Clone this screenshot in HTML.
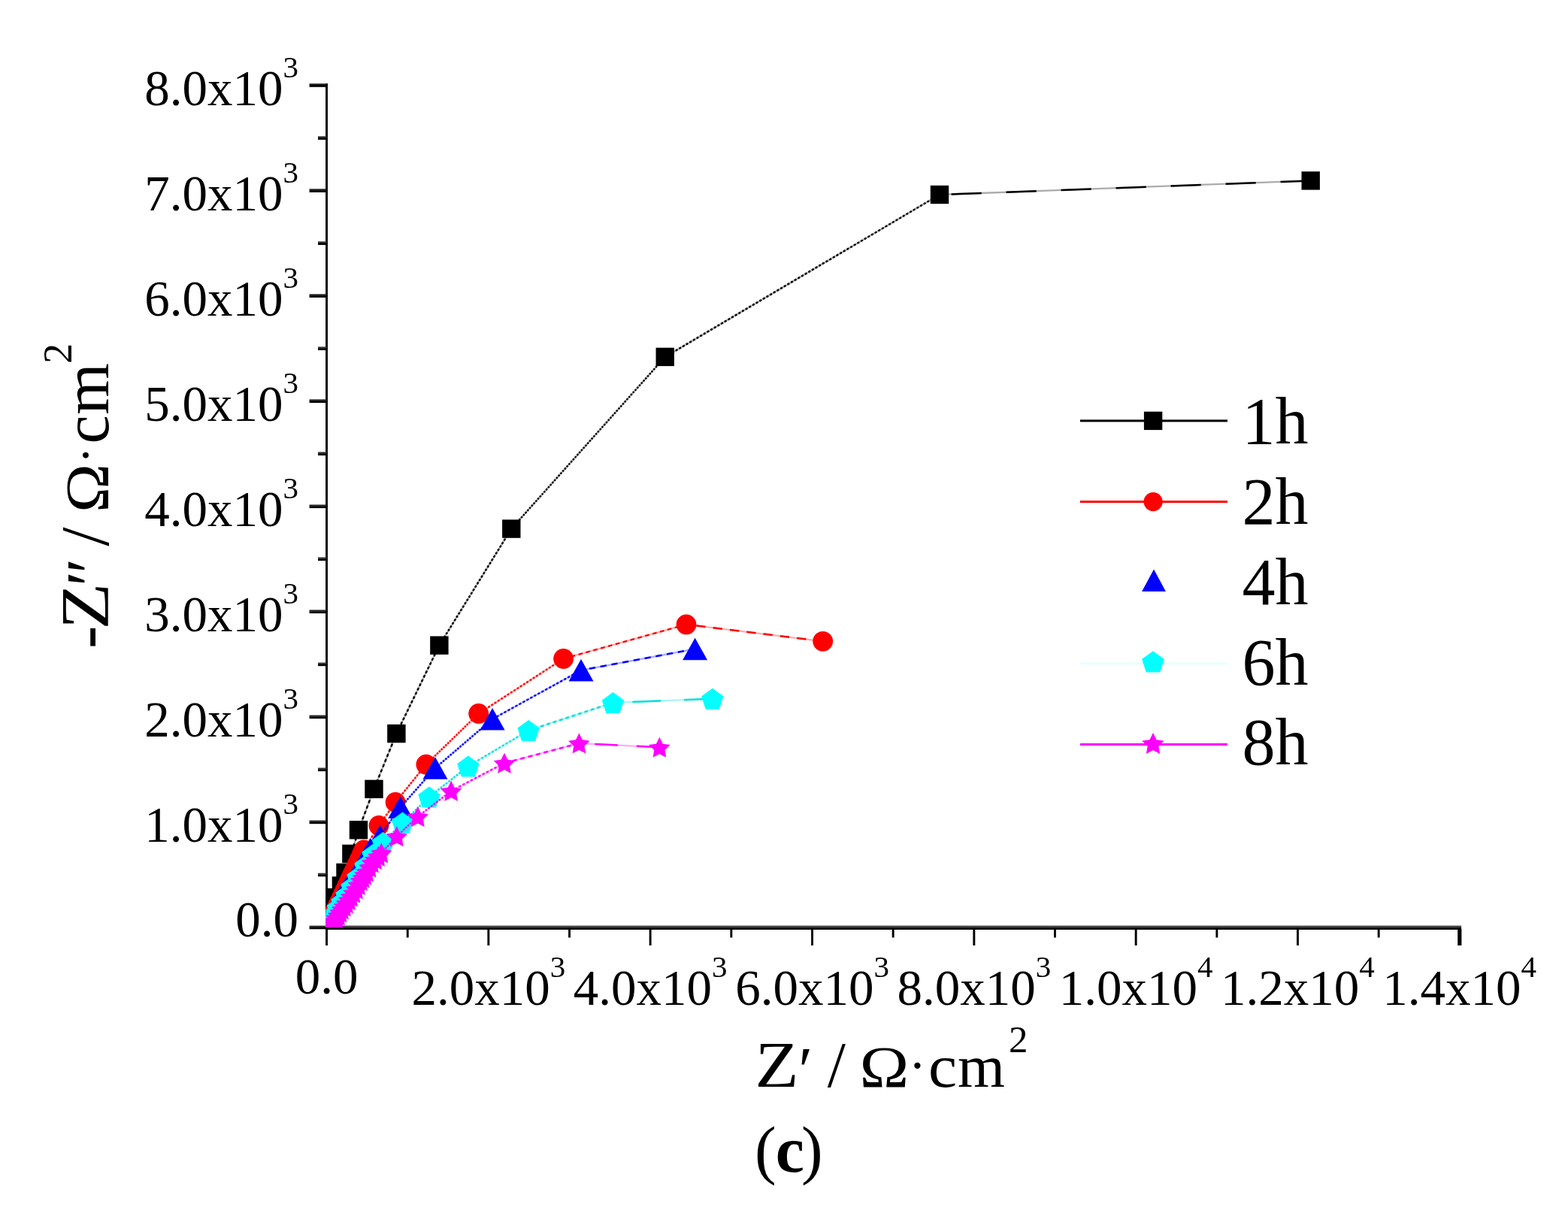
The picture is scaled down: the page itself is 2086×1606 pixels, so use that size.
<!DOCTYPE html>
<html><head><meta charset="utf-8"><title>Nyquist plot (c)</title>
<style>
html,body{margin:0;padding:0;background:#fff;}
svg{display:block;}
text{font-family:"Liberation Serif", "Times New Roman", serif;fill:#000;}
.tk{font-size:67px;}
.sup{font-size:41px;}
.sup2{font-size:51px;}
.lg{font-size:88px;}
.ttl{font-size:87px;}
.ttly{font-size:91px;}
.sup3{font-size:54px;}
.cap{font-size:86px;}
</style></head>
<body>
<svg width="2086" height="1606" viewBox="0 0 2086 1606">
<defs><clipPath id="plotclip"><rect x="433.5" y="0" width="1600" height="1234"/></clipPath></defs>
<rect width="2086" height="1606" fill="#fff"/>
<rect x="433.1" y="111" width="2.9" height="1126" fill="#000"/>
<rect x="433.1" y="1231.6" width="1511" height="2.6" fill="#444"/>
<rect x="433.1" y="1234.1" width="1511" height="2.9" fill="#000"/>
<rect x="411.6" y="1231.7" width="23" height="2.0" fill="#222"/>
<rect x="411.6" y="1233.5" width="23" height="2.8" fill="#000"/>
<rect x="411.6" y="1091.6" width="23" height="2.0" fill="#222"/>
<rect x="411.6" y="1093.4" width="23" height="2.8" fill="#000"/>
<rect x="411.6" y="951.6" width="23" height="2.0" fill="#222"/>
<rect x="411.6" y="953.4" width="23" height="2.8" fill="#000"/>
<rect x="411.6" y="811.5" width="23" height="2.0" fill="#222"/>
<rect x="411.6" y="813.3" width="23" height="2.8" fill="#000"/>
<rect x="411.6" y="671.5" width="23" height="2.0" fill="#222"/>
<rect x="411.6" y="673.3" width="23" height="2.8" fill="#000"/>
<rect x="411.6" y="531.4" width="23" height="2.0" fill="#222"/>
<rect x="411.6" y="533.2" width="23" height="2.8" fill="#000"/>
<rect x="411.6" y="391.3" width="23" height="2.0" fill="#222"/>
<rect x="411.6" y="393.1" width="23" height="2.8" fill="#000"/>
<rect x="411.6" y="251.3" width="23" height="2.0" fill="#222"/>
<rect x="411.6" y="253.1" width="23" height="2.8" fill="#000"/>
<rect x="411.6" y="111.2" width="23" height="2.0" fill="#222"/>
<rect x="411.6" y="113.0" width="23" height="2.8" fill="#000"/>
<rect x="423" y="1161.7" width="12" height="2.0" fill="#333"/>
<rect x="423" y="1163.5" width="12" height="2.8" fill="#000"/>
<rect x="423" y="1021.6" width="12" height="2.0" fill="#333"/>
<rect x="423" y="1023.4" width="12" height="2.8" fill="#000"/>
<rect x="423" y="881.6" width="12" height="2.0" fill="#333"/>
<rect x="423" y="883.4" width="12" height="2.8" fill="#000"/>
<rect x="423" y="741.5" width="12" height="2.0" fill="#333"/>
<rect x="423" y="743.3" width="12" height="2.8" fill="#000"/>
<rect x="423" y="601.4" width="12" height="2.0" fill="#333"/>
<rect x="423" y="603.2" width="12" height="2.8" fill="#000"/>
<rect x="423" y="461.4" width="12" height="2.0" fill="#333"/>
<rect x="423" y="463.2" width="12" height="2.8" fill="#000"/>
<rect x="423" y="321.3" width="12" height="2.0" fill="#333"/>
<rect x="423" y="323.1" width="12" height="2.8" fill="#000"/>
<rect x="423" y="181.3" width="12" height="2.0" fill="#333"/>
<rect x="423" y="183.1" width="12" height="2.8" fill="#000"/>
<rect x="433.1" y="1236" width="2.9" height="22" fill="#000"/>
<rect x="540.8" y="1236" width="2.9" height="11.5" fill="#000"/>
<rect x="648.4" y="1236" width="2.9" height="22" fill="#000"/>
<rect x="756.1" y="1236" width="2.9" height="11.5" fill="#000"/>
<rect x="863.7" y="1236" width="2.9" height="22" fill="#000"/>
<rect x="971.4" y="1236" width="2.9" height="11.5" fill="#000"/>
<rect x="1079.1" y="1236" width="2.9" height="22" fill="#000"/>
<rect x="1186.7" y="1236" width="2.9" height="11.5" fill="#000"/>
<rect x="1294.4" y="1236" width="2.9" height="22" fill="#000"/>
<rect x="1402.0" y="1236" width="2.9" height="11.5" fill="#000"/>
<rect x="1509.7" y="1236" width="2.9" height="22" fill="#000"/>
<rect x="1617.4" y="1236" width="2.9" height="11.5" fill="#000"/>
<rect x="1725.0" y="1236" width="2.9" height="22" fill="#000"/>
<rect x="1832.7" y="1236" width="2.9" height="11.5" fill="#000"/>
<rect x="1939.2" y="1236" width="5.2" height="22" fill="#000"/>
<text transform="translate(397,1246.0) scale(1,1.0)" text-anchor="end" class="tk">0.0</text>
<text transform="translate(397,1119.9) scale(1,1.0)" text-anchor="end" class="tk">1.0x10<tspan class="sup" dy="-37">3</tspan></text>
<text transform="translate(397,979.9) scale(1,1.0)" text-anchor="end" class="tk">2.0x10<tspan class="sup" dy="-37">3</tspan></text>
<text transform="translate(397,839.8) scale(1,1.0)" text-anchor="end" class="tk">3.0x10<tspan class="sup" dy="-37">3</tspan></text>
<text transform="translate(397,699.8) scale(1,1.0)" text-anchor="end" class="tk">4.0x10<tspan class="sup" dy="-37">3</tspan></text>
<text transform="translate(397,559.7) scale(1,1.0)" text-anchor="end" class="tk">5.0x10<tspan class="sup" dy="-37">3</tspan></text>
<text transform="translate(397,419.6) scale(1,1.0)" text-anchor="end" class="tk">6.0x10<tspan class="sup" dy="-37">3</tspan></text>
<text transform="translate(397,279.6) scale(1,1.0)" text-anchor="end" class="tk">7.0x10<tspan class="sup" dy="-37">3</tspan></text>
<text transform="translate(397,139.5) scale(1,1.0)" text-anchor="end" class="tk">8.0x10<tspan class="sup" dy="-37">3</tspan></text>
<text transform="translate(434.5,1322) scale(1,1.0)" text-anchor="middle" class="tk">0.0</text>
<text transform="translate(649.8,1337) scale(1,1.0)" text-anchor="middle" class="tk">2.0x10<tspan class="sup" dy="-37">3</tspan></text>
<text transform="translate(865.1,1337) scale(1,1.0)" text-anchor="middle" class="tk">4.0x10<tspan class="sup" dy="-37">3</tspan></text>
<text transform="translate(1080.5,1337) scale(1,1.0)" text-anchor="middle" class="tk">6.0x10<tspan class="sup" dy="-37">3</tspan></text>
<text transform="translate(1295.8,1337) scale(1,1.0)" text-anchor="middle" class="tk">8.0x10<tspan class="sup" dy="-37">3</tspan></text>
<text transform="translate(1511.1,1337) scale(1,1.0)" text-anchor="middle" class="tk">1.0x10<tspan class="sup" dy="-37">4</tspan></text>
<text transform="translate(1726.4,1337) scale(1,1.0)" text-anchor="middle" class="tk">1.2x10<tspan class="sup" dy="-37">4</tspan></text>
<text transform="translate(1941.7,1337) scale(1,1.0)" text-anchor="middle" class="tk">1.4x10<tspan class="sup" dy="-37">4</tspan></text>
<g clip-path="url(#plotclip)">
<line x1="1743.7" y1="240.4" x2="1250.0" y2="259.0" stroke="#000000" stroke-width="2.3" stroke-opacity="0.33"/><line x1="1743.7" y1="240.4" x2="1250.0" y2="259.0" stroke="#000000" stroke-width="2.5" stroke-dasharray="40.17 32.87"/>
<line x1="1250.0" y1="259.0" x2="884.8" y2="474.9" stroke="#000000" stroke-width="2.3" stroke-opacity="0.33"/><line x1="1250.0" y1="259.0" x2="884.8" y2="474.9" stroke="#000000" stroke-width="2.5" stroke-dasharray="2.97 2.43"/>
<line x1="884.8" y1="474.9" x2="680.3" y2="703.6" stroke="#000000" stroke-width="2.3" stroke-opacity="0.33"/><line x1="884.8" y1="474.9" x2="680.3" y2="703.6" stroke="#000000" stroke-width="2.5" stroke-dasharray="2.27 1.86"/>
<line x1="680.3" y1="703.6" x2="584.4" y2="858.7" stroke="#000000" stroke-width="2.3" stroke-opacity="0.33"/><line x1="680.3" y1="703.6" x2="584.4" y2="858.7" stroke="#000000" stroke-width="2.5" stroke-dasharray="2.88 2.35"/>
<line x1="584.4" y1="858.7" x2="527.4" y2="976.1" stroke="#000000" stroke-width="2.3" stroke-opacity="0.33"/><line x1="584.4" y1="858.7" x2="527.4" y2="976.1" stroke="#000000" stroke-width="2.5" stroke-dasharray="3.46 2.83"/>
<line x1="527.4" y1="976.1" x2="497.5" y2="1049.9" stroke="#000000" stroke-width="2.3" stroke-opacity="0.33"/><line x1="527.4" y1="976.1" x2="497.5" y2="1049.9" stroke="#000000" stroke-width="2.5" stroke-dasharray="4.03 3.30"/>
<line x1="497.5" y1="1049.9" x2="477.0" y2="1104.3" stroke="#000000" stroke-width="2.3" stroke-opacity="0.33"/><line x1="497.5" y1="1049.9" x2="477.0" y2="1104.3" stroke="#000000" stroke-width="2.5" stroke-dasharray="4.29 3.51"/>
<line x1="477.0" y1="1104.3" x2="467.4" y2="1136.0" stroke="#000000" stroke-width="2.3" stroke-opacity="0.33"/><line x1="477.0" y1="1104.3" x2="467.4" y2="1136.0" stroke="#000000" stroke-width="2.5" stroke-dasharray="5.22 4.27"/>
<line x1="467.4" y1="1136.0" x2="459.5" y2="1161.0" stroke="#000000" stroke-width="2.3" stroke-opacity="0.33"/><line x1="467.4" y1="1136.0" x2="459.5" y2="1161.0" stroke="#000000" stroke-width="2.5" stroke-dasharray="5.02 4.11"/>
<line x1="459.5" y1="1161.0" x2="453.9" y2="1178.5" stroke="#000000" stroke-width="2.3" stroke-opacity="0.33"/><line x1="459.5" y1="1161.0" x2="453.9" y2="1178.5" stroke="#000000" stroke-width="2.5" stroke-dasharray="4.96 4.06"/>
<line x1="453.9" y1="1178.5" x2="447.9" y2="1194.2" stroke="#000000" stroke-width="2.3" stroke-opacity="0.33"/><line x1="453.9" y1="1178.5" x2="447.9" y2="1194.2" stroke="#000000" stroke-width="2.5" stroke-dasharray="4.24 3.47"/>
<line x1="447.9" y1="1194.2" x2="443.5" y2="1205.0" stroke="#000000" stroke-width="2.3" stroke-opacity="0.33"/><line x1="447.9" y1="1194.2" x2="443.5" y2="1205.0" stroke="#000000" stroke-width="2.5" stroke-dasharray="4.01 3.28"/>
<line x1="443.5" y1="1205.0" x2="440.5" y2="1213.0" stroke="#000000" stroke-width="2.3" stroke-opacity="0.33"/><line x1="443.5" y1="1205.0" x2="440.5" y2="1213.0" stroke="#000000" stroke-width="2.5" stroke-dasharray="4.31 3.52"/>
<line x1="440.5" y1="1213.0" x2="438.5" y2="1220.0" stroke="#000000" stroke-width="2.3" stroke-opacity="0.33"/><line x1="440.5" y1="1213.0" x2="438.5" y2="1220.0" stroke="#000000" stroke-width="2.5" stroke-dasharray="5.51 4.50"/>
<line x1="438.5" y1="1220.0" x2="437.0" y2="1226.0" stroke="#000000" stroke-width="2.3" stroke-opacity="0.33"/><line x1="438.5" y1="1220.0" x2="437.0" y2="1226.0" stroke="#000000" stroke-width="2.5" stroke-dasharray="6.24 5.10"/>
<rect x="1731.50" y="228.20" width="24.4" height="24.4" fill="#000000"/>
<rect x="1237.80" y="246.80" width="24.4" height="24.4" fill="#000000"/>
<rect x="872.55" y="462.70" width="24.4" height="24.4" fill="#000000"/>
<rect x="668.10" y="691.40" width="24.4" height="24.4" fill="#000000"/>
<rect x="572.20" y="846.50" width="24.4" height="24.4" fill="#000000"/>
<rect x="515.20" y="963.90" width="24.4" height="24.4" fill="#000000"/>
<rect x="485.30" y="1037.70" width="24.4" height="24.4" fill="#000000"/>
<rect x="464.80" y="1092.10" width="24.4" height="24.4" fill="#000000"/>
<rect x="455.20" y="1123.80" width="24.4" height="24.4" fill="#000000"/>
<rect x="447.30" y="1148.80" width="24.4" height="24.4" fill="#000000"/>
<rect x="441.70" y="1166.30" width="24.4" height="24.4" fill="#000000"/>
<rect x="435.70" y="1182.00" width="24.4" height="24.4" fill="#000000"/>
<rect x="431.30" y="1192.80" width="24.4" height="24.4" fill="#000000"/>
<rect x="428.30" y="1200.80" width="24.4" height="24.4" fill="#000000"/>
<rect x="426.30" y="1207.80" width="24.4" height="24.4" fill="#000000"/>
<rect x="424.80" y="1213.80" width="24.4" height="24.4" fill="#000000"/>
<line x1="1094.7" y1="853.3" x2="913.0" y2="830.9" stroke="#ff0000" stroke-width="2.3" stroke-opacity="0.33"/><line x1="1094.7" y1="853.3" x2="913.0" y2="830.9" stroke="#ff0000" stroke-width="2.5" stroke-dasharray="12.36 10.11"/>
<line x1="913.0" y1="830.9" x2="749.6" y2="876.5" stroke="#ff0000" stroke-width="2.3" stroke-opacity="0.33"/><line x1="913.0" y1="830.9" x2="749.6" y2="876.5" stroke="#ff0000" stroke-width="2.5" stroke-dasharray="5.63 4.60"/>
<line x1="749.6" y1="876.5" x2="636.7" y2="949.5" stroke="#ff0000" stroke-width="2.3" stroke-opacity="0.33"/><line x1="749.6" y1="876.5" x2="636.7" y2="949.5" stroke="#ff0000" stroke-width="2.5" stroke-dasharray="2.79 2.28"/>
<line x1="636.7" y1="949.5" x2="566.9" y2="1017.2" stroke="#ff0000" stroke-width="2.3" stroke-opacity="0.33"/><line x1="636.7" y1="949.5" x2="566.9" y2="1017.2" stroke="#ff0000" stroke-width="2.5" stroke-dasharray="2.17 1.78"/>
<line x1="566.9" y1="1017.2" x2="526.1" y2="1067.5" stroke="#ff0000" stroke-width="2.3" stroke-opacity="0.33"/><line x1="566.9" y1="1017.2" x2="526.1" y2="1067.5" stroke="#ff0000" stroke-width="2.5" stroke-dasharray="2.40 1.96"/>
<line x1="526.1" y1="1067.5" x2="504.0" y2="1098.5" stroke="#ff0000" stroke-width="2.3" stroke-opacity="0.33"/><line x1="526.1" y1="1067.5" x2="504.0" y2="1098.5" stroke="#ff0000" stroke-width="2.5" stroke-dasharray="2.61 2.13"/>
<line x1="504.0" y1="1098.5" x2="484.0" y2="1131.0" stroke="#ff0000" stroke-width="2.3" stroke-opacity="0.33"/><line x1="504.0" y1="1098.5" x2="484.0" y2="1131.0" stroke="#ff0000" stroke-width="2.5" stroke-dasharray="2.89 2.36"/>
<line x1="484.0" y1="1131.0" x2="475.3" y2="1150.0" stroke="#ff0000" stroke-width="2.3" stroke-opacity="0.33"/><line x1="484.0" y1="1131.0" x2="475.3" y2="1150.0" stroke="#ff0000" stroke-width="2.5" stroke-dasharray="3.63 2.97"/>
<line x1="475.3" y1="1150.0" x2="470.6" y2="1160.0" stroke="#ff0000" stroke-width="2.3" stroke-opacity="0.33"/><line x1="475.3" y1="1150.0" x2="470.6" y2="1160.0" stroke="#ff0000" stroke-width="2.5" stroke-dasharray="3.56 2.91"/>
<line x1="470.6" y1="1160.0" x2="465.9" y2="1170.0" stroke="#ff0000" stroke-width="2.3" stroke-opacity="0.33"/><line x1="470.6" y1="1160.0" x2="465.9" y2="1170.0" stroke="#ff0000" stroke-width="2.5" stroke-dasharray="3.56 2.91"/>
<line x1="465.9" y1="1170.0" x2="461.2" y2="1180.0" stroke="#ff0000" stroke-width="2.3" stroke-opacity="0.33"/><line x1="465.9" y1="1170.0" x2="461.2" y2="1180.0" stroke="#ff0000" stroke-width="2.5" stroke-dasharray="3.56 2.91"/>
<line x1="461.2" y1="1180.0" x2="456.5" y2="1190.0" stroke="#ff0000" stroke-width="2.3" stroke-opacity="0.33"/><line x1="461.2" y1="1180.0" x2="456.5" y2="1190.0" stroke="#ff0000" stroke-width="2.5" stroke-dasharray="3.56 2.91"/>
<line x1="456.5" y1="1190.0" x2="451.8" y2="1200.0" stroke="#ff0000" stroke-width="2.3" stroke-opacity="0.33"/><line x1="456.5" y1="1190.0" x2="451.8" y2="1200.0" stroke="#ff0000" stroke-width="2.5" stroke-dasharray="3.56 2.91"/>
<line x1="451.8" y1="1200.0" x2="447.0" y2="1210.0" stroke="#ff0000" stroke-width="2.3" stroke-opacity="0.33"/><line x1="451.8" y1="1200.0" x2="447.0" y2="1210.0" stroke="#ff0000" stroke-width="2.5" stroke-dasharray="3.50 2.86"/>
<line x1="447.0" y1="1210.0" x2="443.0" y2="1218.0" stroke="#ff0000" stroke-width="2.3" stroke-opacity="0.33"/><line x1="447.0" y1="1210.0" x2="443.0" y2="1218.0" stroke="#ff0000" stroke-width="2.5" stroke-dasharray="3.38 2.77"/>
<line x1="443.0" y1="1218.0" x2="440.0" y2="1225.0" stroke="#ff0000" stroke-width="2.3" stroke-opacity="0.33"/><line x1="443.0" y1="1218.0" x2="440.0" y2="1225.0" stroke="#ff0000" stroke-width="2.5" stroke-dasharray="3.84 3.14"/>
<circle cx="1094.70" cy="853.30" r="13.4" fill="#ff0000"/>
<circle cx="913.00" cy="830.90" r="13.4" fill="#ff0000"/>
<circle cx="749.60" cy="876.50" r="13.4" fill="#ff0000"/>
<circle cx="636.70" cy="949.50" r="13.4" fill="#ff0000"/>
<circle cx="566.90" cy="1017.20" r="13.4" fill="#ff0000"/>
<circle cx="526.10" cy="1067.50" r="13.4" fill="#ff0000"/>
<circle cx="504.00" cy="1098.50" r="13.4" fill="#ff0000"/>
<circle cx="484.00" cy="1131.00" r="13.4" fill="#ff0000"/>
<circle cx="481.10" cy="1137.33" r="13.4" fill="#ff0000"/>
<circle cx="478.20" cy="1143.67" r="13.4" fill="#ff0000"/>
<circle cx="475.30" cy="1150.00" r="13.4" fill="#ff0000"/>
<circle cx="472.95" cy="1155.00" r="13.4" fill="#ff0000"/>
<circle cx="470.60" cy="1160.00" r="13.4" fill="#ff0000"/>
<circle cx="468.25" cy="1165.00" r="13.4" fill="#ff0000"/>
<circle cx="465.90" cy="1170.00" r="13.4" fill="#ff0000"/>
<circle cx="463.55" cy="1175.00" r="13.4" fill="#ff0000"/>
<circle cx="461.20" cy="1180.00" r="13.4" fill="#ff0000"/>
<circle cx="458.85" cy="1185.00" r="13.4" fill="#ff0000"/>
<circle cx="456.50" cy="1190.00" r="13.4" fill="#ff0000"/>
<circle cx="454.15" cy="1195.00" r="13.4" fill="#ff0000"/>
<circle cx="451.80" cy="1200.00" r="13.4" fill="#ff0000"/>
<circle cx="449.40" cy="1205.00" r="13.4" fill="#ff0000"/>
<circle cx="447.00" cy="1210.00" r="13.4" fill="#ff0000"/>
<circle cx="445.00" cy="1214.00" r="13.4" fill="#ff0000"/>
<circle cx="443.00" cy="1218.00" r="13.4" fill="#ff0000"/>
<circle cx="441.50" cy="1221.50" r="13.4" fill="#ff0000"/>
<circle cx="440.00" cy="1225.00" r="13.4" fill="#ff0000"/>
<line x1="924.6" y1="863.5" x2="773.0" y2="891.8" stroke="#0000ff" stroke-width="2.3" stroke-opacity="0.33"/><line x1="924.6" y1="863.5" x2="773.0" y2="891.8" stroke="#0000ff" stroke-width="2.5" stroke-dasharray="8.24 6.74"/>
<line x1="773.0" y1="891.8" x2="655.1" y2="956.8" stroke="#0000ff" stroke-width="2.3" stroke-opacity="0.33"/><line x1="773.0" y1="891.8" x2="655.1" y2="956.8" stroke="#0000ff" stroke-width="2.5" stroke-dasharray="3.13 2.56"/>
<line x1="655.1" y1="956.8" x2="579.0" y2="1022.0" stroke="#0000ff" stroke-width="2.3" stroke-opacity="0.33"/><line x1="655.1" y1="956.8" x2="579.0" y2="1022.0" stroke="#0000ff" stroke-width="2.5" stroke-dasharray="2.32 1.90"/>
<line x1="579.0" y1="1022.0" x2="532.7" y2="1074.2" stroke="#0000ff" stroke-width="2.3" stroke-opacity="0.33"/><line x1="579.0" y1="1022.0" x2="532.7" y2="1074.2" stroke="#0000ff" stroke-width="2.5" stroke-dasharray="2.28 1.86"/>
<line x1="532.7" y1="1074.2" x2="505.7" y2="1112.5" stroke="#0000ff" stroke-width="2.3" stroke-opacity="0.33"/><line x1="532.7" y1="1074.2" x2="505.7" y2="1112.5" stroke="#0000ff" stroke-width="2.5" stroke-dasharray="2.63 2.15"/>
<line x1="505.7" y1="1112.5" x2="493.0" y2="1130.0" stroke="#0000ff" stroke-width="2.3" stroke-opacity="0.33"/><line x1="505.7" y1="1112.5" x2="493.0" y2="1130.0" stroke="#0000ff" stroke-width="2.5" stroke-dasharray="2.58 2.11"/>
<line x1="493.0" y1="1130.0" x2="486.6" y2="1140.0" stroke="#0000ff" stroke-width="2.3" stroke-opacity="0.33"/><line x1="493.0" y1="1130.0" x2="486.6" y2="1140.0" stroke="#0000ff" stroke-width="2.5" stroke-dasharray="2.81 2.30"/>
<line x1="486.6" y1="1140.0" x2="481.6" y2="1150.0" stroke="#0000ff" stroke-width="2.3" stroke-opacity="0.33"/><line x1="486.6" y1="1140.0" x2="481.6" y2="1150.0" stroke="#0000ff" stroke-width="2.5" stroke-dasharray="3.38 2.77"/>
<line x1="481.6" y1="1150.0" x2="475.8" y2="1160.0" stroke="#0000ff" stroke-width="2.3" stroke-opacity="0.33"/><line x1="481.6" y1="1150.0" x2="475.8" y2="1160.0" stroke="#0000ff" stroke-width="2.5" stroke-dasharray="3.01 2.47"/>
<line x1="475.8" y1="1160.0" x2="468.9" y2="1170.0" stroke="#0000ff" stroke-width="2.3" stroke-opacity="0.33"/><line x1="475.8" y1="1160.0" x2="468.9" y2="1170.0" stroke="#0000ff" stroke-width="2.5" stroke-dasharray="2.66 2.18"/>
<line x1="468.9" y1="1170.0" x2="462.0" y2="1180.0" stroke="#0000ff" stroke-width="2.3" stroke-opacity="0.33"/><line x1="468.9" y1="1170.0" x2="462.0" y2="1180.0" stroke="#0000ff" stroke-width="2.5" stroke-dasharray="2.66 2.18"/>
<line x1="462.0" y1="1180.0" x2="455.0" y2="1190.0" stroke="#0000ff" stroke-width="2.3" stroke-opacity="0.33"/><line x1="462.0" y1="1180.0" x2="455.0" y2="1190.0" stroke="#0000ff" stroke-width="2.5" stroke-dasharray="2.64 2.16"/>
<line x1="455.0" y1="1190.0" x2="449.0" y2="1200.0" stroke="#0000ff" stroke-width="2.3" stroke-opacity="0.33"/><line x1="455.0" y1="1190.0" x2="449.0" y2="1200.0" stroke="#0000ff" stroke-width="2.5" stroke-dasharray="2.94 2.41"/>
<line x1="449.0" y1="1200.0" x2="444.0" y2="1209.0" stroke="#0000ff" stroke-width="2.3" stroke-opacity="0.33"/><line x1="449.0" y1="1200.0" x2="444.0" y2="1209.0" stroke="#0000ff" stroke-width="2.5" stroke-dasharray="3.11 2.55"/>
<line x1="444.0" y1="1209.0" x2="440.0" y2="1217.0" stroke="#0000ff" stroke-width="2.3" stroke-opacity="0.33"/><line x1="444.0" y1="1209.0" x2="440.0" y2="1217.0" stroke="#0000ff" stroke-width="2.5" stroke-dasharray="3.38 2.77"/>
<line x1="440.0" y1="1217.0" x2="437.0" y2="1225.0" stroke="#0000ff" stroke-width="2.3" stroke-opacity="0.33"/><line x1="440.0" y1="1217.0" x2="437.0" y2="1225.0" stroke="#0000ff" stroke-width="2.5" stroke-dasharray="4.31 3.52"/>
<polygon points="924.60,848.80 908.10,878.20 941.10,878.20" fill="#0000ff"/>
<polygon points="773.00,877.10 756.50,906.50 789.50,906.50" fill="#0000ff"/>
<polygon points="655.10,942.10 638.60,971.50 671.60,971.50" fill="#0000ff"/>
<polygon points="579.00,1007.30 562.50,1036.70 595.50,1036.70" fill="#0000ff"/>
<polygon points="532.70,1059.50 516.20,1088.90 549.20,1088.90" fill="#0000ff"/>
<polygon points="505.70,1097.80 489.20,1127.20 522.20,1127.20" fill="#0000ff"/>
<polygon points="493.00,1115.30 476.50,1144.70 509.50,1144.70" fill="#0000ff"/>
<polygon points="489.80,1120.30 473.30,1149.70 506.30,1149.70" fill="#0000ff"/>
<polygon points="486.60,1125.30 470.10,1154.70 503.10,1154.70" fill="#0000ff"/>
<polygon points="484.10,1130.30 467.60,1159.70 500.60,1159.70" fill="#0000ff"/>
<polygon points="481.60,1135.30 465.10,1164.70 498.10,1164.70" fill="#0000ff"/>
<polygon points="478.70,1140.30 462.20,1169.70 495.20,1169.70" fill="#0000ff"/>
<polygon points="475.80,1145.30 459.30,1174.70 492.30,1174.70" fill="#0000ff"/>
<polygon points="473.50,1148.63 457.00,1178.03 490.00,1178.03" fill="#0000ff"/>
<polygon points="471.20,1151.97 454.70,1181.37 487.70,1181.37" fill="#0000ff"/>
<polygon points="468.90,1155.30 452.40,1184.70 485.40,1184.70" fill="#0000ff"/>
<polygon points="466.60,1158.63 450.10,1188.03 483.10,1188.03" fill="#0000ff"/>
<polygon points="464.30,1161.97 447.80,1191.37 480.80,1191.37" fill="#0000ff"/>
<polygon points="462.00,1165.30 445.50,1194.70 478.50,1194.70" fill="#0000ff"/>
<polygon points="459.67,1168.63 443.17,1198.03 476.17,1198.03" fill="#0000ff"/>
<polygon points="457.33,1171.97 440.83,1201.37 473.83,1201.37" fill="#0000ff"/>
<polygon points="455.00,1175.30 438.50,1204.70 471.50,1204.70" fill="#0000ff"/>
<polygon points="452.00,1180.30 435.50,1209.70 468.50,1209.70" fill="#0000ff"/>
<polygon points="449.00,1185.30 432.50,1214.70 465.50,1214.70" fill="#0000ff"/>
<polygon points="446.50,1189.80 430.00,1219.20 463.00,1219.20" fill="#0000ff"/>
<polygon points="444.00,1194.30 427.50,1223.70 460.50,1223.70" fill="#0000ff"/>
<polygon points="442.00,1198.30 425.50,1227.70 458.50,1227.70" fill="#0000ff"/>
<polygon points="440.00,1202.30 423.50,1231.70 456.50,1231.70" fill="#0000ff"/>
<polygon points="438.50,1206.30 422.00,1235.70 455.00,1235.70" fill="#0000ff"/>
<polygon points="437.00,1210.30 420.50,1239.70 453.50,1239.70" fill="#0000ff"/>
<line x1="947.8" y1="929.7" x2="815.5" y2="935.0" stroke="#00e0e0" stroke-width="2.3" stroke-opacity="0.33"/><line x1="947.8" y1="929.7" x2="815.5" y2="935.0" stroke="#00e0e0" stroke-width="2.5" stroke-dasharray="37.79 30.92"/>
<line x1="815.5" y1="935.0" x2="703.1" y2="972.0" stroke="#00e0e0" stroke-width="2.3" stroke-opacity="0.33"/><line x1="815.5" y1="935.0" x2="703.1" y2="972.0" stroke="#00e0e0" stroke-width="2.5" stroke-dasharray="4.84 3.96"/>
<line x1="703.1" y1="972.0" x2="622.9" y2="1019.5" stroke="#00e0e0" stroke-width="2.3" stroke-opacity="0.33"/><line x1="703.1" y1="972.0" x2="622.9" y2="1019.5" stroke="#00e0e0" stroke-width="2.5" stroke-dasharray="2.97 2.43"/>
<line x1="622.9" y1="1019.5" x2="571.0" y2="1060.5" stroke="#00e0e0" stroke-width="2.3" stroke-opacity="0.33"/><line x1="622.9" y1="1019.5" x2="571.0" y2="1060.5" stroke="#00e0e0" stroke-width="2.5" stroke-dasharray="2.44 2.00"/>
<line x1="571.0" y1="1060.5" x2="535.5" y2="1094.5" stroke="#00e0e0" stroke-width="2.3" stroke-opacity="0.33"/><line x1="571.0" y1="1060.5" x2="535.5" y2="1094.5" stroke="#00e0e0" stroke-width="2.5" stroke-dasharray="2.19 1.79"/>
<line x1="535.5" y1="1094.5" x2="509.5" y2="1121.0" stroke="#00e0e0" stroke-width="2.3" stroke-opacity="0.33"/><line x1="535.5" y1="1094.5" x2="509.5" y2="1121.0" stroke="#00e0e0" stroke-width="2.5" stroke-dasharray="2.16 1.77"/>
<line x1="509.5" y1="1121.0" x2="496.0" y2="1137.0" stroke="#00e0e0" stroke-width="2.3" stroke-opacity="0.33"/><line x1="509.5" y1="1121.0" x2="496.0" y2="1137.0" stroke="#00e0e0" stroke-width="2.5" stroke-dasharray="2.35 1.92"/>
<line x1="496.0" y1="1137.0" x2="486.0" y2="1152.0" stroke="#00e0e0" stroke-width="2.3" stroke-opacity="0.33"/><line x1="496.0" y1="1137.0" x2="486.0" y2="1152.0" stroke="#00e0e0" stroke-width="2.5" stroke-dasharray="2.73 2.23"/>
<line x1="486.0" y1="1152.0" x2="476.0" y2="1167.0" stroke="#00e0e0" stroke-width="2.3" stroke-opacity="0.33"/><line x1="486.0" y1="1152.0" x2="476.0" y2="1167.0" stroke="#00e0e0" stroke-width="2.5" stroke-dasharray="2.73 2.23"/>
<line x1="476.0" y1="1167.0" x2="468.0" y2="1180.0" stroke="#00e0e0" stroke-width="2.3" stroke-opacity="0.33"/><line x1="476.0" y1="1167.0" x2="468.0" y2="1180.0" stroke="#00e0e0" stroke-width="2.5" stroke-dasharray="2.89 2.36"/>
<line x1="468.0" y1="1180.0" x2="461.0" y2="1191.0" stroke="#00e0e0" stroke-width="2.3" stroke-opacity="0.33"/><line x1="468.0" y1="1180.0" x2="461.0" y2="1191.0" stroke="#00e0e0" stroke-width="2.5" stroke-dasharray="2.82 2.31"/>
<line x1="461.0" y1="1191.0" x2="455.0" y2="1200.0" stroke="#00e0e0" stroke-width="2.3" stroke-opacity="0.33"/><line x1="461.0" y1="1191.0" x2="455.0" y2="1200.0" stroke="#00e0e0" stroke-width="2.5" stroke-dasharray="2.73 2.23"/>
<line x1="455.0" y1="1200.0" x2="449.5" y2="1208.0" stroke="#00e0e0" stroke-width="2.3" stroke-opacity="0.33"/><line x1="455.0" y1="1200.0" x2="449.5" y2="1208.0" stroke="#00e0e0" stroke-width="2.5" stroke-dasharray="2.67 2.18"/>
<line x1="449.5" y1="1208.0" x2="445.0" y2="1216.0" stroke="#00e0e0" stroke-width="2.3" stroke-opacity="0.33"/><line x1="449.5" y1="1208.0" x2="445.0" y2="1216.0" stroke="#00e0e0" stroke-width="2.5" stroke-dasharray="3.09 2.52"/>
<line x1="445.0" y1="1216.0" x2="441.0" y2="1223.0" stroke="#00e0e0" stroke-width="2.3" stroke-opacity="0.33"/><line x1="445.0" y1="1216.0" x2="441.0" y2="1223.0" stroke="#00e0e0" stroke-width="2.5" stroke-dasharray="3.05 2.49"/>
<line x1="441.0" y1="1223.0" x2="438.0" y2="1229.0" stroke="#00e0e0" stroke-width="2.3" stroke-opacity="0.33"/><line x1="441.0" y1="1223.0" x2="438.0" y2="1229.0" stroke="#00e0e0" stroke-width="2.5" stroke-dasharray="3.38 2.77"/>
<polygon points="947.80,915.77 962.45,926.41 956.85,943.63 938.75,943.63 933.15,926.41" fill="#00ffff"/>
<polygon points="815.50,921.07 830.15,931.71 824.55,948.93 806.45,948.93 800.85,931.71" fill="#00ffff"/>
<polygon points="703.10,958.07 717.75,968.71 712.15,985.93 694.05,985.93 688.45,968.71" fill="#00ffff"/>
<polygon points="622.90,1005.57 637.55,1016.21 631.95,1033.43 613.85,1033.43 608.25,1016.21" fill="#00ffff"/>
<polygon points="571.00,1046.57 585.65,1057.21 580.05,1074.43 561.95,1074.43 556.35,1057.21" fill="#00ffff"/>
<polygon points="535.50,1080.57 550.15,1091.21 544.55,1108.43 526.45,1108.43 520.85,1091.21" fill="#00ffff"/>
<polygon points="509.50,1107.07 524.15,1117.71 518.55,1134.93 500.45,1134.93 494.85,1117.71" fill="#00ffff"/>
<polygon points="496.00,1123.07 510.65,1133.71 505.05,1150.93 486.95,1150.93 481.35,1133.71" fill="#00ffff"/>
<polygon points="486.00,1138.07 500.65,1148.71 495.05,1165.93 476.95,1165.93 471.35,1148.71" fill="#00ffff"/>
<polygon points="476.00,1153.07 490.65,1163.71 485.05,1180.93 466.95,1180.93 461.35,1163.71" fill="#00ffff"/>
<polygon points="468.00,1166.07 482.65,1176.71 477.05,1193.93 458.95,1193.93 453.35,1176.71" fill="#00ffff"/>
<polygon points="461.00,1177.07 475.65,1187.71 470.05,1204.93 451.95,1204.93 446.35,1187.71" fill="#00ffff"/>
<polygon points="455.00,1186.07 469.65,1196.71 464.05,1213.93 445.95,1213.93 440.35,1196.71" fill="#00ffff"/>
<polygon points="449.50,1194.07 464.15,1204.71 458.55,1221.93 440.45,1221.93 434.85,1204.71" fill="#00ffff"/>
<polygon points="445.00,1202.07 459.65,1212.71 454.05,1229.93 435.95,1229.93 430.35,1212.71" fill="#00ffff"/>
<polygon points="441.00,1209.07 455.65,1219.71 450.05,1236.93 431.95,1236.93 426.35,1219.71" fill="#00ffff"/>
<polygon points="438.00,1215.07 452.65,1225.71 447.05,1242.93 428.95,1242.93 423.35,1225.71" fill="#00ffff"/>
<line x1="877.4" y1="994.3" x2="770.4" y2="989.0" stroke="#ff00ff" stroke-width="2.3" stroke-opacity="0.33"/><line x1="877.4" y1="994.3" x2="770.4" y2="989.0" stroke="#ff00ff" stroke-width="2.5" stroke-dasharray="30.57 25.01"/>
<line x1="770.4" y1="989.0" x2="671.0" y2="1015.4" stroke="#ff00ff" stroke-width="2.3" stroke-opacity="0.33"/><line x1="770.4" y1="989.0" x2="671.0" y2="1015.4" stroke="#ff00ff" stroke-width="2.5" stroke-dasharray="5.89 4.82"/>
<line x1="671.0" y1="1015.4" x2="600.2" y2="1052.4" stroke="#ff00ff" stroke-width="2.3" stroke-opacity="0.33"/><line x1="671.0" y1="1015.4" x2="600.2" y2="1052.4" stroke="#ff00ff" stroke-width="2.5" stroke-dasharray="3.27 2.67"/>
<line x1="600.2" y1="1052.4" x2="555.8" y2="1086.6" stroke="#ff00ff" stroke-width="2.3" stroke-opacity="0.33"/><line x1="600.2" y1="1052.4" x2="555.8" y2="1086.6" stroke="#ff00ff" stroke-width="2.5" stroke-dasharray="2.48 2.03"/>
<line x1="555.8" y1="1086.6" x2="527.8" y2="1112.8" stroke="#ff00ff" stroke-width="2.3" stroke-opacity="0.33"/><line x1="555.8" y1="1086.6" x2="527.8" y2="1112.8" stroke="#ff00ff" stroke-width="2.5" stroke-dasharray="2.21 1.81"/>
<line x1="527.8" y1="1112.8" x2="507.3" y2="1135.0" stroke="#ff00ff" stroke-width="2.3" stroke-opacity="0.33"/><line x1="527.8" y1="1112.8" x2="507.3" y2="1135.0" stroke="#ff00ff" stroke-width="2.5" stroke-dasharray="2.23 1.82"/>
<line x1="507.3" y1="1135.0" x2="495.0" y2="1148.0" stroke="#ff00ff" stroke-width="2.3" stroke-opacity="0.33"/><line x1="507.3" y1="1135.0" x2="495.0" y2="1148.0" stroke="#ff00ff" stroke-width="2.5" stroke-dasharray="2.20 1.80"/>
<line x1="495.0" y1="1148.0" x2="488.0" y2="1160.0" stroke="#ff00ff" stroke-width="2.3" stroke-opacity="0.33"/><line x1="495.0" y1="1148.0" x2="488.0" y2="1160.0" stroke="#ff00ff" stroke-width="2.5" stroke-dasharray="3.00 2.46"/>
<line x1="488.0" y1="1160.0" x2="480.0" y2="1172.0" stroke="#ff00ff" stroke-width="2.3" stroke-opacity="0.33"/><line x1="488.0" y1="1160.0" x2="480.0" y2="1172.0" stroke="#ff00ff" stroke-width="2.5" stroke-dasharray="2.73 2.23"/>
<line x1="480.0" y1="1172.0" x2="474.0" y2="1183.0" stroke="#ff00ff" stroke-width="2.3" stroke-opacity="0.33"/><line x1="480.0" y1="1172.0" x2="474.0" y2="1183.0" stroke="#ff00ff" stroke-width="2.5" stroke-dasharray="3.16 2.58"/>
<line x1="474.0" y1="1183.0" x2="467.0" y2="1193.0" stroke="#ff00ff" stroke-width="2.3" stroke-opacity="0.33"/><line x1="474.0" y1="1183.0" x2="467.0" y2="1193.0" stroke="#ff00ff" stroke-width="2.5" stroke-dasharray="2.64 2.16"/>
<line x1="467.0" y1="1193.0" x2="461.0" y2="1202.0" stroke="#ff00ff" stroke-width="2.3" stroke-opacity="0.33"/><line x1="467.0" y1="1193.0" x2="461.0" y2="1202.0" stroke="#ff00ff" stroke-width="2.5" stroke-dasharray="2.73 2.23"/>
<line x1="461.0" y1="1202.0" x2="455.0" y2="1210.0" stroke="#ff00ff" stroke-width="2.3" stroke-opacity="0.33"/><line x1="461.0" y1="1202.0" x2="455.0" y2="1210.0" stroke="#ff00ff" stroke-width="2.5" stroke-dasharray="2.52 2.06"/>
<line x1="455.0" y1="1210.0" x2="450.0" y2="1218.0" stroke="#ff00ff" stroke-width="2.3" stroke-opacity="0.33"/><line x1="455.0" y1="1210.0" x2="450.0" y2="1218.0" stroke="#ff00ff" stroke-width="2.5" stroke-dasharray="2.85 2.33"/>
<line x1="450.0" y1="1218.0" x2="445.0" y2="1225.0" stroke="#ff00ff" stroke-width="2.3" stroke-opacity="0.33"/><line x1="450.0" y1="1218.0" x2="445.0" y2="1225.0" stroke="#ff00ff" stroke-width="2.5" stroke-dasharray="2.60 2.13"/>
<line x1="445.0" y1="1225.0" x2="441.0" y2="1231.0" stroke="#ff00ff" stroke-width="2.3" stroke-opacity="0.33"/><line x1="445.0" y1="1225.0" x2="441.0" y2="1231.0" stroke="#ff00ff" stroke-width="2.5" stroke-dasharray="2.73 2.23"/>
<polygon points="877.40,980.73 881.81,989.66 891.67,991.10 884.53,998.05 886.22,1007.87 877.40,1003.23 868.58,1007.87 870.27,998.05 863.13,991.10 872.99,989.66" fill="#ff00ff"/>
<polygon points="770.40,975.43 774.81,984.36 784.67,985.80 777.53,992.75 779.22,1002.57 770.40,997.93 761.58,1002.57 763.27,992.75 756.13,985.80 765.99,984.36" fill="#ff00ff"/>
<polygon points="671.00,1001.83 675.41,1010.76 685.27,1012.20 678.13,1019.15 679.82,1028.97 671.00,1024.33 662.18,1028.97 663.87,1019.15 656.73,1012.20 666.59,1010.76" fill="#ff00ff"/>
<polygon points="600.20,1038.83 604.61,1047.76 614.47,1049.20 607.33,1056.15 609.02,1065.97 600.20,1061.33 591.38,1065.97 593.07,1056.15 585.93,1049.20 595.79,1047.76" fill="#ff00ff"/>
<polygon points="555.80,1073.03 560.21,1081.96 570.07,1083.40 562.93,1090.35 564.62,1100.17 555.80,1095.53 546.98,1100.17 548.67,1090.35 541.53,1083.40 551.39,1081.96" fill="#ff00ff"/>
<polygon points="527.80,1099.23 532.21,1108.16 542.07,1109.60 534.93,1116.55 536.62,1126.37 527.80,1121.73 518.98,1126.37 520.67,1116.55 513.53,1109.60 523.39,1108.16" fill="#ff00ff"/>
<polygon points="507.30,1121.43 511.71,1130.36 521.57,1131.80 514.43,1138.75 516.12,1148.57 507.30,1143.93 498.48,1148.57 500.17,1138.75 493.03,1131.80 502.89,1130.36" fill="#ff00ff"/>
<polygon points="503.20,1125.77 507.61,1134.70 517.47,1136.13 510.33,1143.08 512.02,1152.90 503.20,1148.27 494.38,1152.90 496.07,1143.08 488.93,1136.13 498.79,1134.70" fill="#ff00ff"/>
<polygon points="499.10,1130.10 503.51,1139.03 513.37,1140.46 506.23,1147.42 507.92,1157.23 499.10,1152.60 490.28,1157.23 491.97,1147.42 484.83,1140.46 494.69,1139.03" fill="#ff00ff"/>
<polygon points="495.00,1134.43 499.41,1143.36 509.27,1144.80 502.13,1151.75 503.82,1161.57 495.00,1156.93 486.18,1161.57 487.87,1151.75 480.73,1144.80 490.59,1143.36" fill="#ff00ff"/>
<polygon points="491.50,1140.43 495.91,1149.36 505.77,1150.80 498.63,1157.75 500.32,1167.57 491.50,1162.93 482.68,1167.57 484.37,1157.75 477.23,1150.80 487.09,1149.36" fill="#ff00ff"/>
<polygon points="488.00,1146.43 492.41,1155.36 502.27,1156.80 495.13,1163.75 496.82,1173.57 488.00,1168.93 479.18,1173.57 480.87,1163.75 473.73,1156.80 483.59,1155.36" fill="#ff00ff"/>
<polygon points="485.33,1150.43 489.74,1159.36 499.60,1160.80 492.47,1167.75 494.15,1177.57 485.33,1172.93 476.52,1177.57 478.20,1167.75 471.07,1160.80 480.92,1159.36" fill="#ff00ff"/>
<polygon points="482.67,1154.43 487.08,1163.36 496.93,1164.80 489.80,1171.75 491.48,1181.57 482.67,1176.93 473.85,1181.57 475.53,1171.75 468.40,1164.80 478.26,1163.36" fill="#ff00ff"/>
<polygon points="480.00,1158.43 484.41,1167.36 494.27,1168.80 487.13,1175.75 488.82,1185.57 480.00,1180.93 471.18,1185.57 472.87,1175.75 465.73,1168.80 475.59,1167.36" fill="#ff00ff"/>
<polygon points="477.00,1163.93 481.41,1172.86 491.27,1174.30 484.13,1181.25 485.82,1191.07 477.00,1186.43 468.18,1191.07 469.87,1181.25 462.73,1174.30 472.59,1172.86" fill="#ff00ff"/>
<polygon points="474.00,1169.43 478.41,1178.36 488.27,1179.80 481.13,1186.75 482.82,1196.57 474.00,1191.93 465.18,1196.57 466.87,1186.75 459.73,1179.80 469.59,1178.36" fill="#ff00ff"/>
<polygon points="470.50,1174.43 474.91,1183.36 484.77,1184.80 477.63,1191.75 479.32,1201.57 470.50,1196.93 461.68,1201.57 463.37,1191.75 456.23,1184.80 466.09,1183.36" fill="#ff00ff"/>
<polygon points="467.00,1179.43 471.41,1188.36 481.27,1189.80 474.13,1196.75 475.82,1206.57 467.00,1201.93 458.18,1206.57 459.87,1196.75 452.73,1189.80 462.59,1188.36" fill="#ff00ff"/>
<polygon points="464.00,1183.93 468.41,1192.86 478.27,1194.30 471.13,1201.25 472.82,1211.07 464.00,1206.43 455.18,1211.07 456.87,1201.25 449.73,1194.30 459.59,1192.86" fill="#ff00ff"/>
<polygon points="461.00,1188.43 465.41,1197.36 475.27,1198.80 468.13,1205.75 469.82,1215.57 461.00,1210.93 452.18,1215.57 453.87,1205.75 446.73,1198.80 456.59,1197.36" fill="#ff00ff"/>
<polygon points="458.00,1192.43 462.41,1201.36 472.27,1202.80 465.13,1209.75 466.82,1219.57 458.00,1214.93 449.18,1219.57 450.87,1209.75 443.73,1202.80 453.59,1201.36" fill="#ff00ff"/>
<polygon points="455.00,1196.43 459.41,1205.36 469.27,1206.80 462.13,1213.75 463.82,1223.57 455.00,1218.93 446.18,1223.57 447.87,1213.75 440.73,1206.80 450.59,1205.36" fill="#ff00ff"/>
<polygon points="452.50,1200.43 456.91,1209.36 466.77,1210.80 459.63,1217.75 461.32,1227.57 452.50,1222.93 443.68,1227.57 445.37,1217.75 438.23,1210.80 448.09,1209.36" fill="#ff00ff"/>
<polygon points="450.00,1204.43 454.41,1213.36 464.27,1214.80 457.13,1221.75 458.82,1231.57 450.00,1226.93 441.18,1231.57 442.87,1221.75 435.73,1214.80 445.59,1213.36" fill="#ff00ff"/>
<polygon points="447.50,1207.93 451.91,1216.86 461.77,1218.30 454.63,1225.25 456.32,1235.07 447.50,1230.43 438.68,1235.07 440.37,1225.25 433.23,1218.30 443.09,1216.86" fill="#ff00ff"/>
<polygon points="445.00,1211.43 449.41,1220.36 459.27,1221.80 452.13,1228.75 453.82,1238.57 445.00,1233.93 436.18,1238.57 437.87,1228.75 430.73,1221.80 440.59,1220.36" fill="#ff00ff"/>
<polygon points="443.00,1214.43 447.41,1223.36 457.27,1224.80 450.13,1231.75 451.82,1241.57 443.00,1236.93 434.18,1241.57 435.87,1231.75 428.73,1224.80 438.59,1223.36" fill="#ff00ff"/>
<polygon points="441.00,1217.43 445.41,1226.36 455.27,1227.80 448.13,1234.75 449.82,1244.57 441.00,1239.93 432.18,1244.57 433.87,1234.75 426.73,1227.80 436.59,1226.36" fill="#ff00ff"/>
</g>
<rect x="1437" y="558.4" width="196" height="3" fill="#000000"/>
<rect x="1521.90" y="547.70" width="24.4" height="24.4" fill="#000000"/>
<text x="1652.5" y="590.4" class="lg">1h</text>
<rect x="1437" y="666.1" width="196" height="3" fill="#ff0000"/>
<circle cx="1534.10" cy="667.56" r="12.6" fill="#ff0000"/>
<text x="1652.5" y="697.2" class="lg">2h</text>
<polygon points="1535.00,757.47 1519.10,786.97 1550.90,786.97" fill="#0000ff"/>
<text x="1652.5" y="803.9" class="lg">4h</text>
<rect x="1437" y="881.4" width="196" height="3" fill="#e6ffff"/>
<polygon points="1534.00,866.18 1548.93,877.03 1543.23,894.58 1524.77,894.58 1519.07,877.03" fill="#00ffff"/>
<text x="1652.5" y="910.7" class="lg">6h</text>
<rect x="1437" y="989.0" width="196" height="3" fill="#ff00ff"/>
<polygon points="1534.00,975.02 1538.56,984.25 1548.74,985.73 1541.37,992.92 1543.11,1003.06 1534.00,998.27 1524.89,1003.06 1526.63,992.92 1519.26,985.73 1529.44,984.25" fill="#ff00ff"/>
<text x="1652.5" y="1017.4" class="lg">8h</text>
<text class="ttl"><tspan x="1004.6" y="1446.2" font-size="87" textLength="58.1" lengthAdjust="spacingAndGlyphs">Z</tspan><tspan x="1062.3" y="1452.7" font-size="87">&#8242;</tspan><tspan x="1100.8" y="1446.2" font-size="87">/</tspan><tspan x="1143.4" y="1446.2" font-size="79" textLength="65.8" lengthAdjust="spacingAndGlyphs">&#937;</tspan><tspan x="1208.8" y="1441.2" font-size="70">&#183;</tspan><tspan x="1235.0" y="1446.2" font-size="81" textLength="38.1" lengthAdjust="spacingAndGlyphs">c</tspan><tspan x="1274.1" y="1446.2" font-size="81">m</tspan><tspan x="1342.1" y="1399.9" font-size="51">2</tspan></text>
<text transform="translate(143.8,900) rotate(-90)" class="ttl"><tspan x="36.9" y="1.0" font-size="91">-</tspan><tspan x="62.4" y="0.0" font-size="91" textLength="61.8" lengthAdjust="spacingAndGlyphs">Z</tspan><tspan x="119.8" y="7.0" font-size="91">&#8243;</tspan><tspan x="173.3" y="0.0" font-size="91">/</tspan><tspan x="218.0" y="0.0" font-size="82.3" textLength="65.1" lengthAdjust="spacingAndGlyphs">&#937;</tspan><tspan x="282.9" y="-8.3" font-size="68">&#183;</tspan><tspan x="309.5" y="0.0" font-size="86">c</tspan><tspan x="348.3" y="0.0" font-size="86" textLength="68.7" lengthAdjust="spacingAndGlyphs">m</tspan><tspan x="416.3" y="-49.1" font-size="54">2</tspan></text>
<text y="1558.5" class="cap"><tspan x="1004.1">(</tspan><tspan x="1031.7" font-weight="bold">c</tspan><tspan x="1066.1">)</tspan></text>
</svg>
</body></html>
